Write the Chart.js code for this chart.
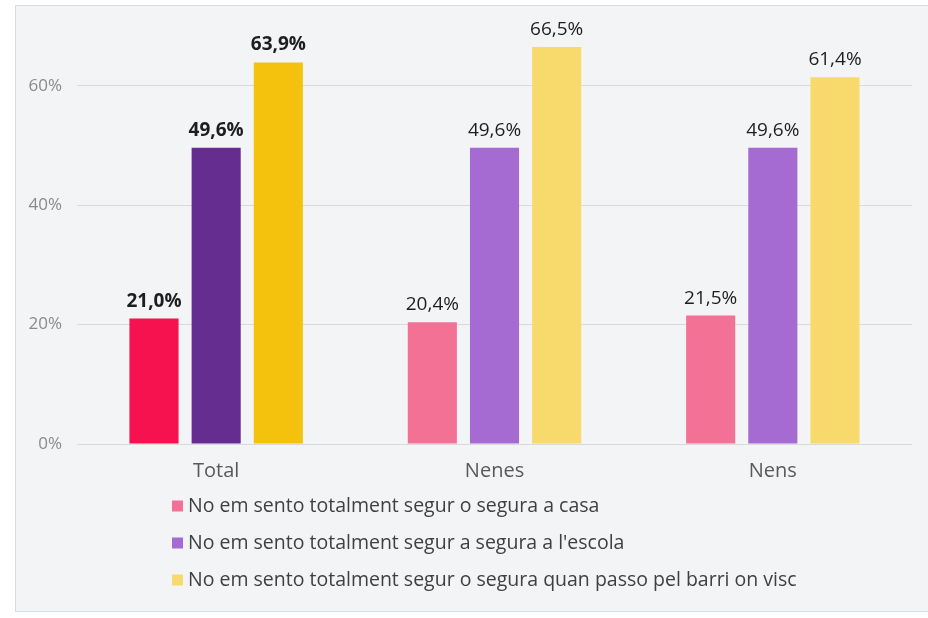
<!DOCTYPE html>
<html>
<head>
<meta charset="utf-8">
<script src="https://cdn.jsdelivr.net/npm/chart.js@4/dist/chart.umd.min.js"></script>
<style>
  html, body { margin: 0; padding: 0; background: #ffffff; }
  #panel {
    position: absolute; left: 15px; top: 5px; width: 920px; height: 607px;
    background: #f3f4f6; border: 1px solid #dadbdd; box-sizing: border-box;
  }
  #wrap { position: absolute; left: 0; top: 0; width: 928px; height: 618px; }
</style>
</head>
<body>
<div id="panel"></div>
<div id="wrap"><canvas id="c" width="928" height="618"></canvas></div>
<script>
// Groups along the x axis
const categories = ['Total', 'Nenes', 'Nens'];

// Series names
const seriesNames = [
  'No em sento totalment segur o segura a casa',
  "No em sento totalment segur a segura a l'escola",
  'No em sento totalment segur o segura quan passo pel barri on visc'
];

// Percentages per series, one value per group
const casaValues   = [21.0, 20.4, 21.5];
const escolaValues = [49.6, 49.6, 49.6];
const barriValues  = [63.9, 66.5, 61.4];

// Y axis tick labels
const yTicks = [0, 20, 40, 60];

// Strong colours for the Total group, soft colours for the rest
const strong = ['#f5124f', '#662d91', '#f4c20d'];
const soft   = ['#f47196', '#a66bd3', '#f7da6b'];

function colorsFor(i) {
  return categories.map((c, j) => j === 0 ? strong[i] : soft[i]);
}

const FONT = '"Open Sans", "Noto Sans", sans-serif';

const fmt = v => v.toFixed(1).replace('.', ',') + '%';

// Value labels above each bar
const valueLabels = {
  id: 'valueLabels',
  afterDatasetsDraw(chart) {
    const ctx = chart.ctx;
    ctx.save();
    ctx.textAlign = 'center';
    ctx.textBaseline = 'alphabetic';
    ctx.fillStyle = '#1e1e1e';
    chart.data.datasets.forEach((ds, i) => {
      const meta = chart.getDatasetMeta(i);
      meta.data.forEach((bar, j) => {
        ctx.font = (j === 0 ? 'bold ' : '') + '19px ' + FONT;
        ctx.fillText(fmt(ds.data[j]), bar.x, bar.y - 12);
      });
    });
    ctx.restore();
  }
};

// Vertical legend below the axis
const stackedLegend = {
  id: 'stackedLegend',
  afterDraw(chart) {
    const ctx = chart.ctx;
    ctx.save();
    ctx.font = '19.5px ' + FONT;
    ctx.textBaseline = 'middle';
    ctx.textAlign = 'left';
    const x0 = 172, y0 = 506, step = 37;
    chart.data.datasets.forEach((ds, i) => {
      const y = y0 + i * step;
      ctx.fillStyle = soft[i];
      ctx.fillRect(x0, y - 5.5, 11, 11);
      ctx.fillStyle = '#404040';
      ctx.fillText(ds.label, x0 + 16, y);
    });
    ctx.restore();
  }
};

new Chart(document.getElementById('c'), {
  type: 'bar',
  data: {
    labels: categories,
    datasets: [
      { label: seriesNames[0], data: casaValues,   backgroundColor: colorsFor(0) },
      { label: seriesNames[1], data: escolaValues, backgroundColor: colorsFor(1) },
      { label: seriesNames[2], data: barriValues,  backgroundColor: colorsFor(2) }
    ]
  },
  options: {
    responsive: false,
    animation: false,
    layout: { padding: { top: 26, right: 16, left: 0, bottom: 0 } },
    datasets: { bar: { categoryPercentage: 0.67, barPercentage: 0.79 } },
    plugins: { legend: { display: false }, tooltip: { enabled: false } },
    scales: {
      x: {
        grid: { display: false, drawTicks: false },
        border: { display: false },
        ticks: { color: '#595959', font: { family: FONT, size: 20 }, padding: 15 },
        afterFit(scale) { scale.height = 174; }
      },
      y: {
        min: 0, max: 70,
        afterBuildTicks(scale) { scale.ticks = yTicks.map(v => ({ value: v })); },
        grid: { color: '#d9d9d9', drawTicks: false },
        border: { display: false },
        ticks: {
          color: '#8a8a8a', font: { family: FONT, size: 17 }, padding: 15,
          callback: v => v + '%'
        },
        afterFit(scale) { scale.width = 77; }
      }
    }
  },
  plugins: [valueLabels, stackedLegend]
});
</script>
</body>
</html>
